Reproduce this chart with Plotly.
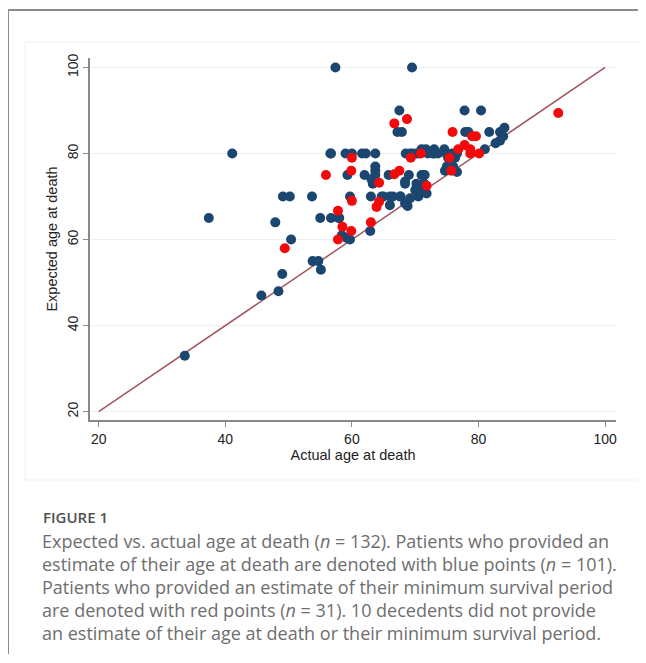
import plotly.graph_objects as go

# ---- data ----
blue_actual = [57.4, 69.5, 41.1, 56.7, 49.1, 50.2, 53.7, 37.4, 47.9, 55.0,
               56.7, 58.0, 50.4, 53.8, 54.7, 55.1, 49.0, 48.4, 45.7, 33.6,
               67.5, 77.8, 80.4, 67.2, 67.9, 77.9, 78.4, 81.7, 83.4, 84.1,
               83.9, 82.7, 83.4, 81.0, 59.0, 61.6, 62.2, 63.7, 68.5, 69.2,
               70.2, 71.7, 72.0, 72.8, 73.6, 74.6, 74.9, 76.6, 75.2, 76.3,
               74.7, 76.0, 65.8, 69.0, 71.0, 71.5, 59.3, 62.0, 63.7, 63.7,
               63.3, 68.4, 70.2, 71.3, 70.8, 70.0, 66.0, 67.6, 69.2, 70.5,
               66.0, 68.4, 59.7, 63.0, 65.0, 62.9, 58.4, 59.2, 59.7, 64.7,
               66.5, 67.7, 68.8, 70.7, 71.4, 71.3, 71.8, 76.6, 75.0, 63.7,
               63.1, 73.0, 70.6, 69.6, 75.8, 71.0, 73.0, 57.9, 60.0, 68.4,
               56.6]
blue_expected = [100, 100, 80, 80, 70, 70, 70, 65, 64, 65,
                 65, 65, 60, 55, 55, 53, 52, 48, 47, 33,
                 90, 90, 90, 85, 85, 85, 85, 85, 85, 86,
                 84, 82.4, 83, 81, 80, 80, 80, 80, 80, 80,
                 80, 81, 80, 80, 80, 81, 80, 80, 79, 79,
                 76, 77, 75, 75, 75, 75, 75, 75, 77, 75,
                 73, 73, 73, 73, 72, 71.5, 70, 70, 69.6, 70,
                 68, 68.4, 70, 70, 70, 62, 61, 60.4, 60, 70,
                 70, 70, 67.8, 72.2, 73, 75, 70.7, 75.7, 77, 76,
                 74, 80, 80, 80, 80, 81, 81, 65, 80, 73.5,
                 80]

red_actual = [55.9, 57.8, 57.8, 49.4, 66.7, 68.7, 92.6, 75.9, 79.0, 79.6,
              77.8, 76.8, 78.7, 78.7, 80.1, 75.4, 69.3, 70.9, 60.0, 59.9,
              66.7, 67.5, 64.3, 75.7, 71.8, 60.0, 64.3, 63.9, 58.5, 59.9,
              63.0]
red_expected = [75, 66.7, 60, 58, 87, 88, 89.4, 85, 84, 84,
                82, 81, 81, 80, 80, 79, 79, 80, 79, 76,
                75.2, 76, 73.2, 76, 72.5, 69, 68.8, 67.6, 63, 62,
                64]

line_x = [20, 100]
line_y = [20, 100]

x_ticks = [20, 40, 60, 80, 100]
y_ticks = [20, 40, 60, 80, 100]

x_title = "Actual age at death"
y_title = "Expected age at death"
fig_label = "FIGURE 1"
caption_lines = [
    "Expected vs. actual age at death (<i>n</i> = 132). Patients who provided an",
    "estimate of their age at death are denoted with blue points (<i>n</i> = 101).",
    "Patients who provided an estimate of their minimum survival period",
    "are denoted with red points (<i>n</i> = 31). 10 decedents did not provide",
    "an estimate of their age at death or their minimum survival period.",
]

# ---- layout helpers (window pixel -> paper); page body has an 8px margin ----
OFF = 8
W, H = 630, 646
ML = 90 - OFF
MT = 58 - OFF
MR = W - (616 - OFF)
MB = H - (420 - OFF)
PW, PH = W - ML - MR, H - MT - MB


def px_x(p):
    return (p - OFF - ML) / PW


def px_y(p):
    return (H - MB - (p - OFF)) / PH


fig = go.Figure()

fig.add_trace(go.Scatter(
    x=line_x, y=line_y, mode="lines",
    line=dict(color="#a0565c", width=1.5),
    hoverinfo="skip", showlegend=False))

fig.add_trace(go.Scatter(
    x=blue_actual, y=blue_expected, mode="markers",
    marker=dict(color="#1b466f", size=10, line=dict(width=0)),
    showlegend=False))

fig.add_trace(go.Scatter(
    x=red_actual, y=red_expected, mode="markers",
    marker=dict(color="#f20a0a", size=10, line=dict(width=0)),
    showlegend=False))

tick_font = dict(family="Liberation Sans, Arial, sans-serif", size=14, color="#222")
title_font = dict(family="Liberation Sans, Arial, sans-serif", size=14.5, color="#222")

fig.update_xaxes(
    range=[18.63, 101.72], tickvals=x_ticks, ticks="outside", ticklen=5,
    tickcolor="#8a8a8a", tickwidth=1.2, showline=True, linecolor="#8a8a8a",
    linewidth=1.5, showgrid=False, zeroline=False, tickfont=tick_font,
    title=dict(text=x_title, font=title_font, standoff=0))

fig.update_yaxes(
    range=[18.07, 102.2], tickvals=y_ticks, ticks="outside", ticklen=5,
    tickcolor="#8a8a8a", tickwidth=1.2, showline=True, linecolor="#8a8a8a",
    linewidth=1.5, showgrid=True, gridcolor="#eef1f4", gridwidth=1,
    zeroline=False, tickangle=-90, tickfont=tick_font,
    title=dict(text=y_title, font=title_font, standoff=4))

shapes = [
    # faint chart panel
    dict(type="rect", xref="paper", yref="paper",
         x0=px_x(25), x1=px_x(640), y0=px_y(480), y1=px_y(42),
         line=dict(color="#f1f1f1", width=1), fillcolor="rgba(0,0,0,0)",
         layer="below"),
    # outer frame (top and left)
    dict(type="line", xref="paper", yref="paper",
         x0=px_x(8), x1=px_x(646), y0=px_y(10), y1=px_y(10),
         line=dict(color="#8c8c8c", width=2)),
    dict(type="line", xref="paper", yref="paper",
         x0=px_x(8), x1=px_x(8), y0=px_y(10), y1=px_y(663),
         line=dict(color="#8c8c8c", width=2)),
]

annotations = [
    dict(text=fig_label, xref="paper", yref="paper", x=px_x(41), y=px_y(517),
         xanchor="left", yanchor="middle", showarrow=False,
         font=dict(family="Open Sans, sans-serif", size=15, color="#505050",
                   weight=600)),
]
for i, line in enumerate(caption_lines):
    annotations.append(dict(
        text=line, xref="paper", yref="paper", x=px_x(40), y=px_y(541 + 23 * i),
        xanchor="left", yanchor="middle", showarrow=False,
        font=dict(family="Open Sans, sans-serif", size=18, color="#6e6e6e")))

fig.update_layout(
    width=W, height=H,
    margin=dict(l=ML, r=MR, t=MT, b=MB),
    paper_bgcolor="white", plot_bgcolor="white",
    shapes=shapes, annotations=annotations,
    hovermode="closest")

fig.write_html("out.html")
